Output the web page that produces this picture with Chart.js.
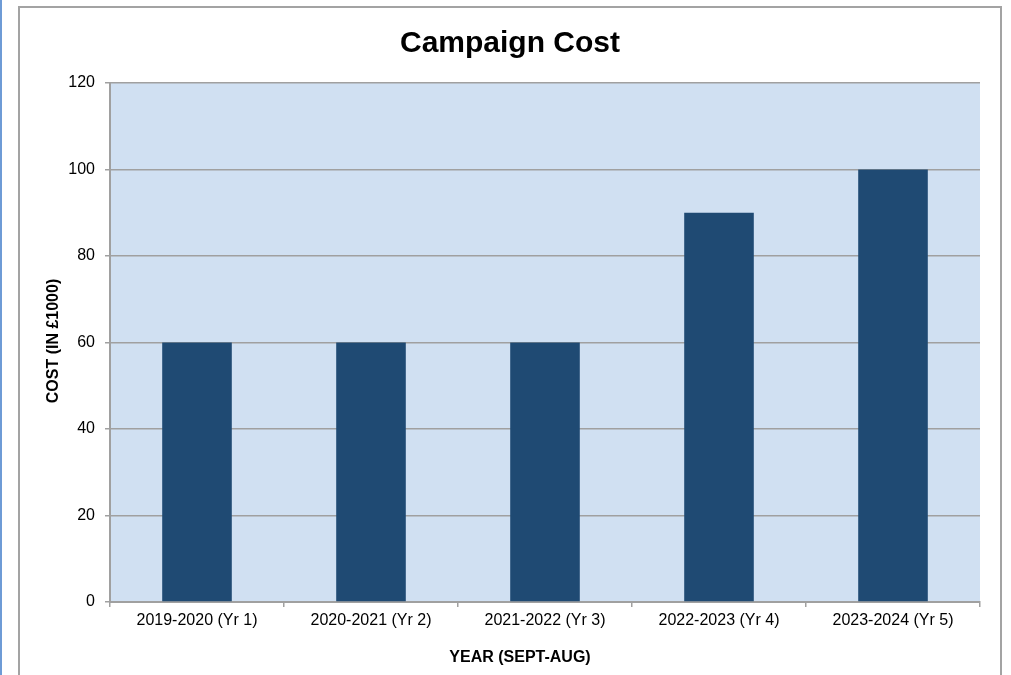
<!DOCTYPE html>
<html>
<head>
<meta charset="utf-8">
<script src="https://cdn.jsdelivr.net/npm/chart.js@4"></script>
<style>
  html, body { margin: 0; padding: 0; background: #ffffff; }
  #wrap { position: absolute; left: 0; top: 0; width: 1011px; height: 675px; }
</style>
</head>
<body>
<div id="wrap"><canvas id="c"></canvas></div>
<script>
const chartTitle = "Campaign Cost";
const xAxisTitle = "YEAR (SEPT-AUG)";
const yAxisTitle = "COST (IN £1000)";
const categories = ["2019-2020 (Yr 1)", "2020-2021 (Yr 2)", "2021-2022 (Yr 3)", "2022-2023 (Yr 4)", "2023-2024 (Yr 5)"];
const costValues = [60, 60, 60, 90, 100];
const yMin = 0;
const yMax = 120;
const yStep = 20;

const FONT = "'Liberation Sans', Arial, Helvetica, sans-serif";

const decorPlugin = {
  id: 'decor',
  beforeDraw(chart) {
    const ctx = chart.ctx;
    const a = chart.chartArea;
    ctx.save();
    ctx.fillStyle = '#ffffff';
    ctx.fillRect(0, 0, chart.width, chart.height);
    // left page edge line
    ctx.fillStyle = '#6e9bd6';
    ctx.fillRect(0, 0, 2, chart.height);
    // outer frame
    ctx.strokeStyle = '#a3a3a3';
    ctx.lineWidth = 2;
    ctx.strokeRect(19, 7, 982, chart.height + 20);
    // plot area background
    ctx.fillStyle = '#d0e0f2';
    ctx.fillRect(a.left, a.top, a.right - a.left, a.bottom - a.top);
    ctx.restore();
  },
  afterDraw(chart) {
    const ctx = chart.ctx;
    ctx.save();
    ctx.fillStyle = '#000000';
    ctx.textAlign = 'center';
    ctx.textBaseline = 'middle';
    ctx.font = "bold 30px " + FONT;
    ctx.fillText(chartTitle, 510, 44);
    ctx.font = "bold 16px " + FONT;
    ctx.fillText(xAxisTitle, 520, 658);
    ctx.translate(54, 341);
    ctx.rotate(-Math.PI / 2);
    ctx.fillText(yAxisTitle, 0, 0);
    ctx.restore();
  }
};

new Chart(document.getElementById('c'), {
  type: 'bar',
  data: {
    labels: categories,
    datasets: [{
      data: costValues,
      backgroundColor: '#1f4a73',
      borderWidth: 0,
      barPercentage: 0.4,
      categoryPercentage: 1.0
    }]
  },
  options: {
    responsive: true,
    maintainAspectRatio: false,
    animation: false,
    devicePixelRatio: 1,
    layout: { padding: { left: 0, right: 31, top: 83, bottom: 0 } },
    plugins: {
      legend: { display: false },
      title: { display: false },
      tooltip: { enabled: false }
    },
    scales: {
      x: {
        afterFit(s) { s.height = 73; },
        grid: {
          display: true,
          drawOnChartArea: false,
          drawTicks: true,
          tickLength: 5,
          color: '#a0a0a0',
          lineWidth: 1.5,
          offset: true
        },
        border: { display: true, color: '#a0a0a0', width: 2 },
        ticks: {
          color: '#000000',
          font: { family: FONT, size: 16 },
          padding: 4,
          maxRotation: 0,
          autoSkip: false
        }
      },
      y: {
        afterFit(s) { s.width = 110; },
        min: yMin,
        max: yMax,
        grid: {
          color: '#a0a0a0',
          lineWidth: 1.5,
          drawTicks: true,
          tickLength: 5
        },
        border: { display: true, color: '#a0a0a0', width: 2 },
        ticks: {
          stepSize: yStep,
          color: '#000000',
          font: { family: FONT, size: 16 },
          padding: 10
        }
      }
    }
  },
  plugins: [decorPlugin]
});
</script>
</body>
</html>
